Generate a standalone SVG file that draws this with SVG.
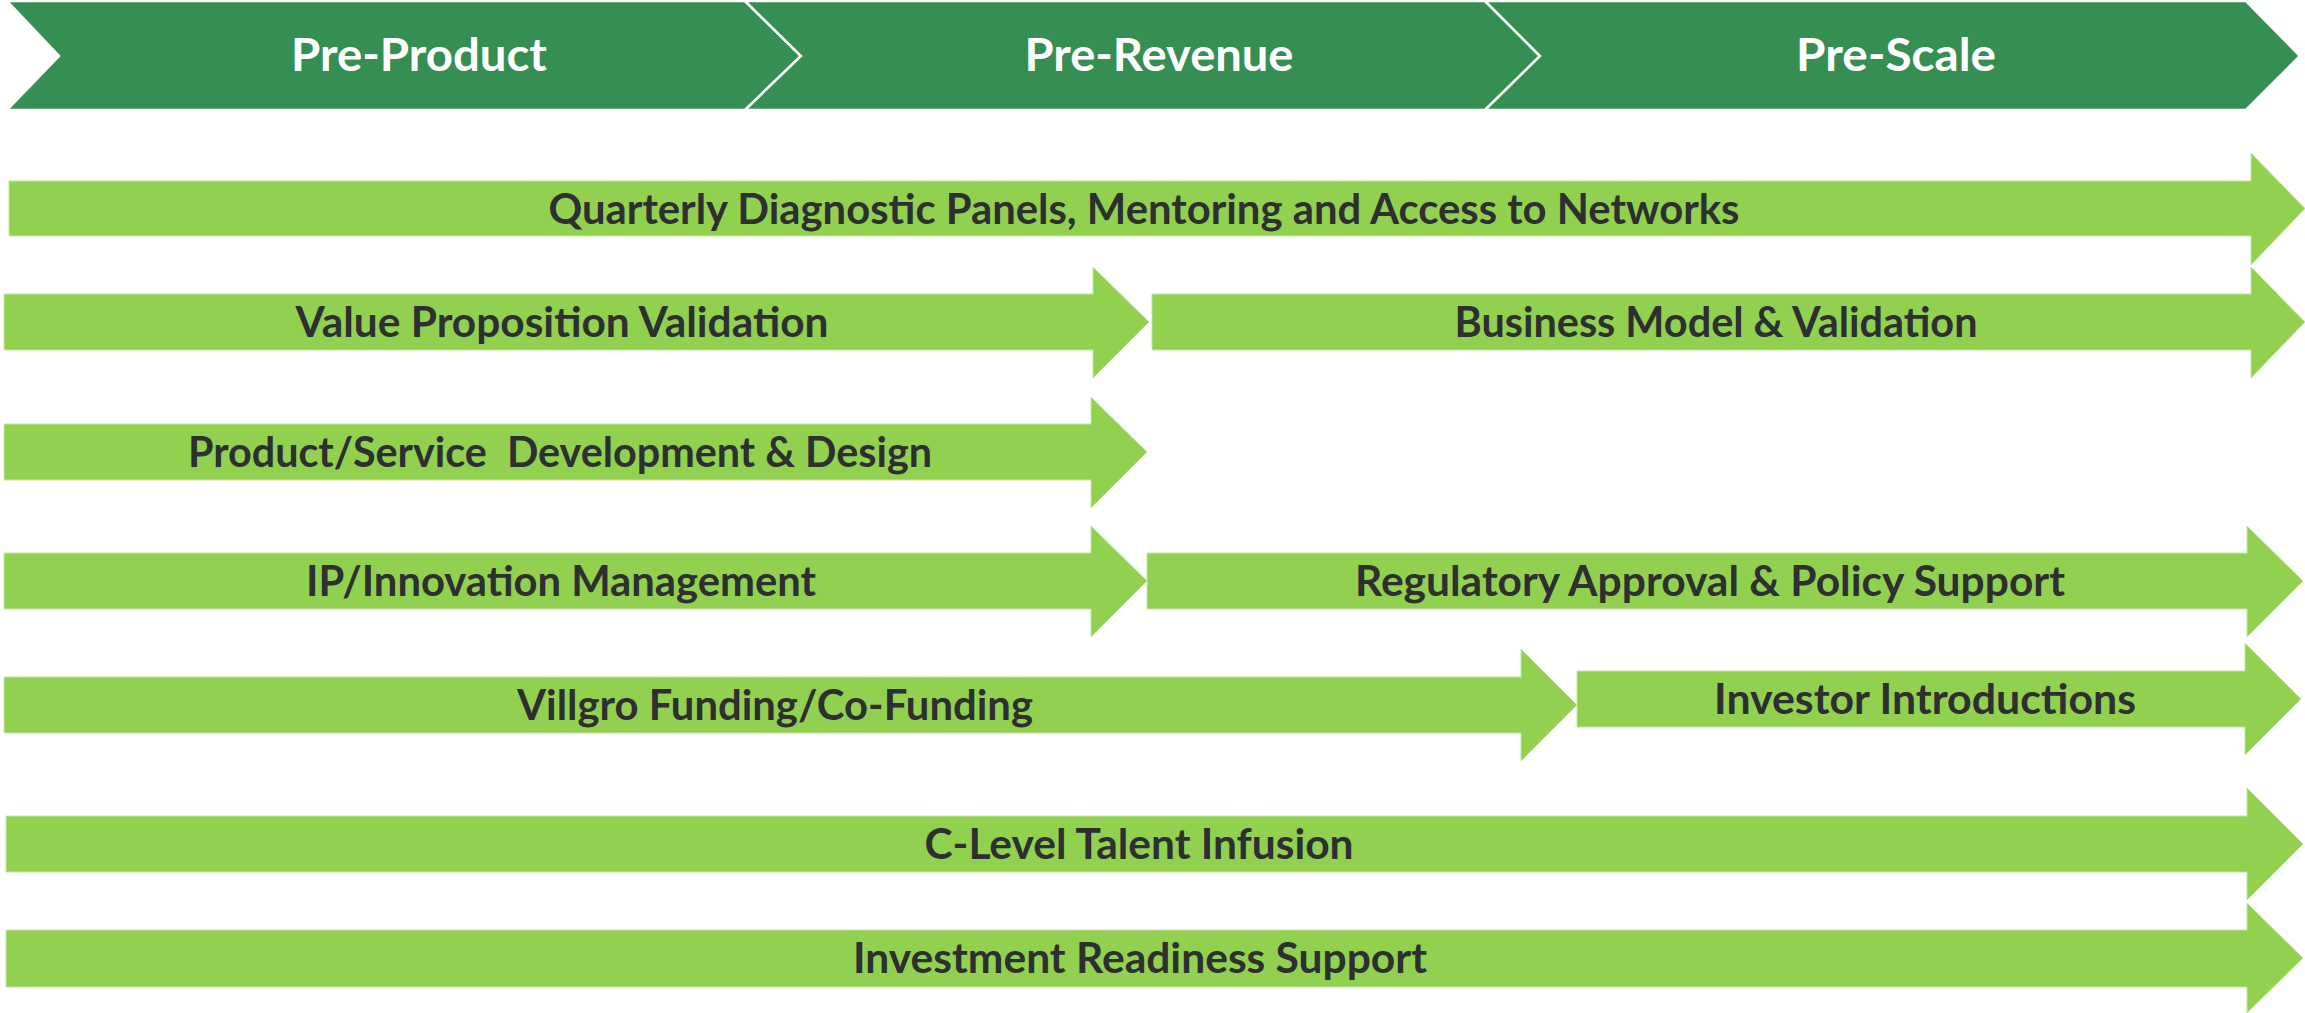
<svg xmlns="http://www.w3.org/2000/svg" width="2305" height="1013" viewBox="0 0 2305 1013">
<style>
.stage{fill:#368f52;stroke:#ffffff;stroke-width:2.5;stroke-linejoin:miter}
.stxt{font-family:Lato,"Liberation Sans",sans-serif;font-weight:700;font-size:46px;fill:#ffffff;text-anchor:middle}
.arr{fill:#92d050;stroke:#c4e6a3;stroke-width:1}
.atxt{font-family:Lato,"Liberation Sans",sans-serif;font-weight:700;font-size:42.5px;fill:#2d2f30;text-anchor:middle;white-space:pre}
</style>
<rect width="2305" height="1013" fill="#ffffff"/>
<g id="stages">
  <g id="stage-pre-product">
    <polygon class="stage" points="7,1 745,1 801,56 745,110 7,110 59,56"/>
    <text class="stxt" x="419" y="71" textLength="256" lengthAdjust="spacingAndGlyphs">Pre-Product</text>
  </g>
  <g id="stage-pre-revenue">
    <polygon class="stage" points="745,1 1485,1 1540,56 1485,110 745,110 801,56"/>
    <text class="stxt" x="1159" y="71" textLength="269" lengthAdjust="spacingAndGlyphs">Pre-Revenue</text>
  </g>
  <g id="stage-pre-scale">
    <polygon class="stage" points="1485,1 2246,1 2300,56 2246,110 1485,110 1540,56"/>
    <text class="stxt" x="1896" y="71" textLength="200" lengthAdjust="spacingAndGlyphs">Pre-Scale</text>
  </g>
</g>
<g id="activities">
  <g id="quarterly-panels">
    <polygon class="arr" points="9,181 2251,181 2251,153 2305,208.5 2251,265 2251,236 9,236"/>
    <text class="atxt" x="1144" y="223.5" textLength="1191" lengthAdjust="spacingAndGlyphs">Quarterly Diagnostic Panels, Mentoring and Access to Networks</text>
  </g>
  <g id="value-proposition">
    <polygon class="arr" points="4,294 1093,294 1093,267 1149,322 1093,378 1093,350 4,350"/>
    <text class="atxt" x="562" y="337" textLength="533" lengthAdjust="spacingAndGlyphs">Value Proposition Validation</text>
  </g>
  <g id="business-model">
    <polygon class="arr" points="1152,294 2251,294 2251,267 2305,322 2251,378 2251,350 1152,350"/>
    <text class="atxt" x="1716" y="337" textLength="523" lengthAdjust="spacingAndGlyphs">Business Model &amp; Validation</text>
  </g>
  <g id="product-development">
    <polygon class="arr" points="4,424 1091,424 1091,397 1147,452 1091,508 1091,480 4,480"/>
    <text class="atxt" x="560" y="467" textLength="744" lengthAdjust="spacingAndGlyphs">Product/Service  Development &amp; Design</text>
  </g>
  <g id="ip-management">
    <polygon class="arr" points="4,553 1091,553 1091,526 1147,581 1091,637 1091,609 4,609"/>
    <text class="atxt" x="561" y="596" textLength="510" lengthAdjust="spacingAndGlyphs">IP/Innovation Management</text>
  </g>
  <g id="regulatory-approval">
    <polygon class="arr" points="1147,553 2247,553 2247,526 2303,581 2247,637 2247,609 1147,609"/>
    <text class="atxt" x="1710" y="596" textLength="710" lengthAdjust="spacingAndGlyphs">Regulatory Approval &amp; Policy Support</text>
  </g>
  <g id="villgro-funding">
    <polygon class="arr" points="4,677 1521,677 1521,649 1577,705 1521,761 1521,733 4,733"/>
    <text class="atxt" x="775" y="720" textLength="516" lengthAdjust="spacingAndGlyphs">Villgro Funding/Co-Funding</text>
  </g>
  <g id="investor-introductions">
    <polygon class="arr" points="1577,671 2245,671 2245,643 2301,699 2245,755 2245,727 1577,727"/>
    <text class="atxt" x="1925" y="714" textLength="422" lengthAdjust="spacingAndGlyphs">Investor Introductions</text>
  </g>
  <g id="c-level-talent">
    <polygon class="arr" points="6,816 2247,816 2247,788 2303,844 2247,900 2247,872 6,872"/>
    <text class="atxt" x="1139" y="859" textLength="429" lengthAdjust="spacingAndGlyphs">C-Level Talent Infusion</text>
  </g>
  <g id="investment-readiness">
    <polygon class="arr" points="6,930 2247,930 2247,903 2303,958 2247,1013 2247,987 6,987"/>
    <text class="atxt" x="1140" y="973" textLength="574" lengthAdjust="spacingAndGlyphs">Investment Readiness Support</text>
  </g>
</g>
<g id="connectors"/>
</svg>
